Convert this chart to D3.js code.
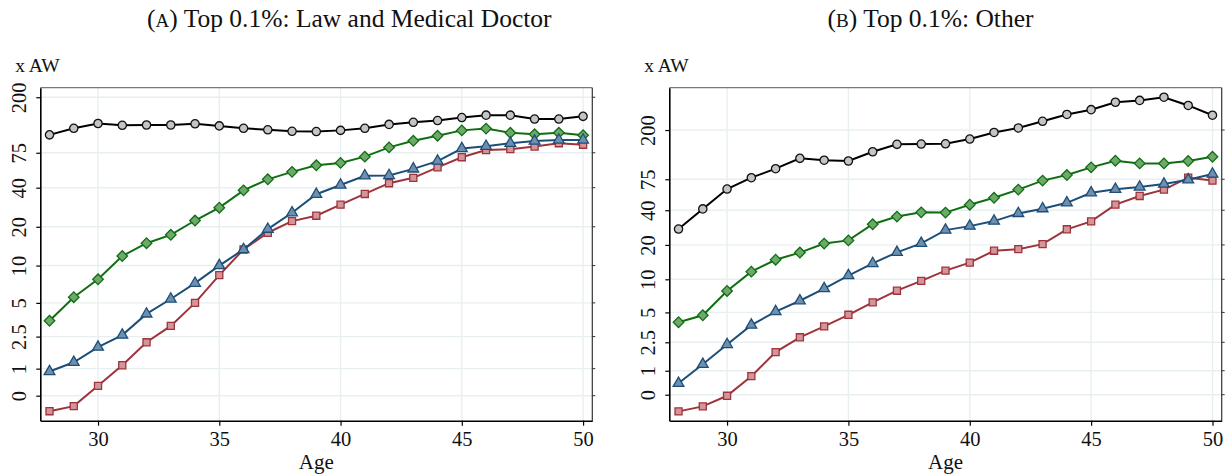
<!DOCTYPE html>
<html><head><meta charset="utf-8">
<script src="https://cdn.jsdelivr.net/npm/d3@7"></script>
<style>
html,body{margin:0;padding:0;background:#fff;}
text{font-family:"Liberation Serif","DejaVu Serif",serif;fill:#111;}
</style></head>
<body><svg id="chart" width="1229" height="476"></svg>
<script>
// ---- data (y values are in the chart's transformed "x AW" axis units; tick label 0 -> 0, 200 -> 100) ----
const ages = d3.range(28, 51);
const xTicks = [30, 35, 40, 45, 50];
const yTickLabels = ["0", "1", "2.5", "5", "10", "20", "40", "75", "200"];
const yTickValues = [0, 9.06, 19.8, 31.1, 43.6, 56.6, 69.7, 81.4, 100];

// Panel A: Law and Medical Doctor
const aBlack = [87.4,89.6,91.2,90.6,90.7,90.7,91.1,90.4,89.6,89.1,88.6,88.5,88.9,89.6,90.9,91.6,92.2,93.2,94.0,94.0,92.7,92.7,93.6];
const aGreen = [25.1,33.0,39.0,46.8,51.1,53.9,58.7,63.0,68.8,72.5,75.0,77.2,78.0,80.1,83.2,85.4,87.1,88.9,89.5,88.1,87.6,88.1,87.3];
const aBlue  = [8.1,11.2,16.3,20.3,27.4,32.4,37.7,43.6,49.0,55.8,61.3,67.5,70.6,73.7,73.8,76.0,78.6,82.8,83.6,84.6,85.3,85.7,85.7];
const aRed   = [-5.2,-3.5,3.3,10.2,17.9,23.4,31.1,40.4,49.0,54.6,58.5,60.3,64.0,67.6,71.2,73.0,76.5,79.9,82.3,82.6,83.5,84.6,84.1];

// Panel B: Other
const bBlack = [62.6,70.2,77.7,82.0,85.4,89.3,88.6,88.3,91.8,94.6,94.7,94.8,96.6,99.1,100.8,103.3,105.9,107.7,110.5,111.2,112.4,109.3,105.6];
const bGreen = [27.4,30.0,39.2,46.5,51.0,53.7,57.1,58.3,64.4,67.3,68.9,68.8,71.8,74.4,77.5,80.9,83.0,85.9,88.4,87.4,87.4,88.3,89.9];
const bBlue  = [4.3,11.5,19.0,26.3,31.4,35.5,40.1,45.0,49.6,53.8,57.2,62.2,63.7,65.6,68.5,70.3,72.5,76.3,77.6,78.5,79.6,81.2,83.4];
const bRed   = [-6.3,-4.4,-0.4,7.0,16.1,21.7,25.8,30.2,34.9,39.3,43.0,46.9,49.9,54.4,55.0,56.9,62.5,65.5,71.8,75.1,77.5,82.0,80.9];

const titleA = "Top 0.1%: Law and Medical Doctor";
const titleB = "Top 0.1%: Other";

// ---- styles ----
const styles = {
  black: {line:"#000000", fill:"#c4c4c4", stroke:"#111111", sym:d3.symbolCircle, size:54, rot:0},
  green: {line:"#0f6e12", fill:"#6ea86a", stroke:"#0f6e12", sym:d3.symbolSquare, size:56, rot:45},
  red:   {line:"#9e333b", fill:"#d3959a", stroke:"#9e333b", sym:d3.symbolSquare, size:50, rot:0},
  blue:  {line:"#1d4e78", fill:"#6f8fae", stroke:"#1d4e78", sym:d3.symbolTriangle, size:50, rot:0}
};

const svg = d3.select("#chart");

function panel(cfg) {
  const g = svg.append("g");
  const x = d3.scaleLinear().domain([27.62, 50.38]).range([cfg.left, cfg.right]);
  const y = d3.scaleLinear().domain(cfg.yDomain).range([cfg.bottom, cfg.top]);

  // gridlines
  g.selectAll(".vg").data(xTicks).enter().append("line")
    .attr("x1", d => x(d)).attr("x2", d => x(d))
    .attr("y1", cfg.top).attr("y2", cfg.bottom)
    .attr("stroke", "#e8eff1").attr("stroke-width", 1.4);
  g.selectAll(".hg").data(yTickValues).enter().append("line")
    .attr("x1", cfg.left).attr("x2", cfg.right)
    .attr("y1", d => y(d)).attr("y2", d => y(d))
    .attr("stroke", "#e8eff1").attr("stroke-width", 1.4);

  // frame top/right
  g.append("line").attr("x1", cfg.left).attr("x2", cfg.right).attr("y1", cfg.top).attr("y2", cfg.top)
    .attr("stroke", "#7a7a7a").attr("stroke-width", 1.2);
  g.append("line").attr("x1", cfg.right).attr("x2", cfg.right).attr("y1", cfg.top).attr("y2", cfg.bottom)
    .attr("stroke", "#333").attr("stroke-width", 1.2);

  // axes
  const xa = g.append("g").attr("transform", `translate(0,${cfg.bottom})`)
    .call(d3.axisBottom(x).tickValues(xTicks).tickSize(5).tickSizeOuter(0).tickPadding(6));
  xa.select(".domain").attr("stroke", "#000").attr("stroke-width", 1.6);
  xa.selectAll(".tick line").attr("stroke", "#000").attr("stroke-width", 1.2);
  xa.selectAll(".tick text").attr("font-size", 20.5).attr("font-family", "Liberation Serif, serif").attr("fill", "#111");

  const ya = g.append("g").attr("transform", `translate(${cfg.left},0)`)
    .call(d3.axisLeft(y).tickValues(yTickValues).tickFormat((d, i) => yTickLabels[i]).tickSize(4).tickSizeOuter(0).tickPadding(6));
  ya.select(".domain").attr("stroke", "#000").attr("stroke-width", 1.6);
  ya.selectAll(".tick line").attr("stroke", "#000").attr("stroke-width", 1.2);
  ya.selectAll(".tick text").attr("font-size", 20.5).attr("font-family", "Liberation Serif, serif").attr("fill", "#111")
    .attr("text-anchor", "middle").attr("x", -21).attr("dy", 0).attr("dominant-baseline", "central")
    .attr("transform", function(){ return `rotate(-90,-21,0)`; });

  // right-side small ticks
  g.selectAll(".rt").data(yTickValues).enter().append("line")
    .attr("x1", cfg.right).attr("x2", cfg.right + 3)
    .attr("y1", d => y(d)).attr("y2", d => y(d)).attr("stroke", "#333").attr("stroke-width", 1);

  // series
  const line = d3.line().x((d, i) => x(ages[i])).y(d => y(d));
  cfg.series.forEach(s => {
    const st = styles[s.style];
    g.append("path").datum(s.values).attr("d", line)
      .attr("fill", "none").attr("stroke", st.line).attr("stroke-width", 2);
    const sym = d3.symbol().type(st.sym).size(st.size);
    g.selectAll(null).data(s.values).enter().append("path")
      .attr("d", sym)
      .attr("transform", (d, i) => `translate(${x(ages[i])},${y(d)}) rotate(${st.rot})`)
      .attr("fill", st.fill).attr("stroke", st.stroke).attr("stroke-width", 1.3);
  });

  // labels
  const t = g.append("text").attr("x", (cfg.left + cfg.right) / 2 + cfg.titleShift).attr("y", 27)
    .attr("text-anchor", "middle").attr("font-size", 25.5);
  t.append("tspan").text("(");
  t.append("tspan").text(cfg.letter).attr("font-size", 19);
  t.append("tspan").text(") " + cfg.title);

  g.append("text").attr("x", cfg.left - 25).attr("y", 72).attr("font-size", 19.5).text("x AW");
  g.append("text").attr("x", (cfg.left + cfg.right) / 2).attr("y", 469)
    .attr("text-anchor", "middle").attr("font-size", 21).text("Age");
}

panel({left:40.3, right:592.3, top:87.7, bottom:420.7, yDomain:[-8.38, 103.2], letter:"A", title:titleA, titleShift:33,
  series:[{style:"black", values:aBlack},{style:"green", values:aGreen},{style:"red", values:aRed},{style:"blue", values:aBlue}]});
panel({left:669.3, right:1221.7, top:87.7, bottom:420.7, yDomain:[-9.82, 116.0], letter:"B", title:titleB, titleShift:-15,
  series:[{style:"black", values:bBlack},{style:"green", values:bGreen},{style:"red", values:bRed},{style:"blue", values:bBlue}]});
</script></body></html>
